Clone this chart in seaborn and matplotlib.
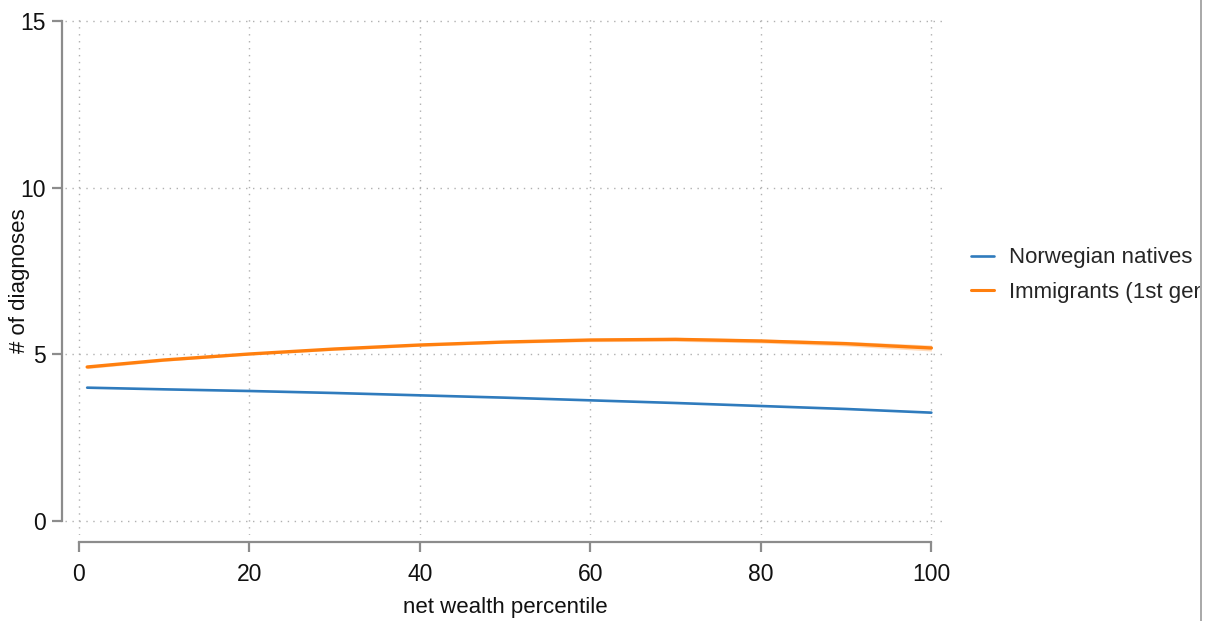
import numpy as np
import pandas as pd
import matplotlib
matplotlib.use("Agg")
import matplotlib.pyplot as plt
import seaborn as sns
from matplotlib.patches import Rectangle
from matplotlib.lines import Line2D

# ---- data ----
percentile = [1, 10, 20, 30, 40, 50, 60, 70, 80, 90, 100]
natives = [4.00, 3.95, 3.90, 3.84, 3.77, 3.70, 3.62, 3.54, 3.45, 3.36, 3.25]
immigrants = [4.62, 4.83, 5.01, 5.16, 5.28, 5.37, 5.43, 5.45, 5.40, 5.32, 5.19]
immig_lo = [4.57, 4.79, 4.98, 5.12, 5.24, 5.33, 5.38, 5.39, 5.34, 5.25, 5.10]
immig_hi = [4.67, 4.87, 5.04, 5.20, 5.32, 5.41, 5.48, 5.51, 5.46, 5.39, 5.28]
series_names = ["Norwegian natives", "Immigrants (1st generation)"]
xticks = [0, 20, 40, 60, 80, 100]
yticks = [0, 5, 10, 15]

df = pd.DataFrame({
    "net wealth percentile": percentile * 2,
    "# of diagnoses": natives + immigrants,
    "group": [series_names[0]] * len(percentile) + [series_names[1]] * len(percentile),
})

sns.set_theme(style="white")
plt.rcParams["font.family"] = ["Liberation Sans", "DejaVu Sans"]

W, H = 1213, 621
fig = plt.figure(figsize=(W / 100, H / 100), dpi=100)
ax = fig.add_axes([65 / W, (H - 535) / H, (945 - 65) / W, (535 - 15) / H])

palette = {series_names[0]: "#2f7bbd", series_names[1]: "#ff7f0e"}
ax.fill_between(percentile, immig_lo, immig_hi, color="#ff7f0e", alpha=0.28, lw=0)
sns.lineplot(data=df, x="net wealth percentile", y="# of diagnoses", hue="group",
             palette=palette, size="group",
             sizes={series_names[0]: 1.9, series_names[1]: 2.4},
             ax=ax, legend=False)

ax.set_xlim(-1.6, 101.6)
ax.set_ylim(-0.42, 15.18)
ax.set_xticks(xticks)
ax.set_yticks(yticks)
ax.grid(True, linestyle=(0, (1, 4)), color="#b0b0b0", linewidth=1.0)

for s in ["top", "right"]:
    ax.spines[s].set_visible(False)
ax.spines["left"].set_position(("outward", 2))
ax.spines["bottom"].set_position(("outward", 5))
ax.spines["left"].set_bounds(0, 15)
ax.spines["bottom"].set_bounds(0, 100)
for s in ["left", "bottom"]:
    ax.spines[s].set_color("#8c8c8c")
    ax.spines[s].set_linewidth(1.6)
ax.tick_params(axis="both", which="major", direction="out", length=7, width=1.6,
               color="#8c8c8c", labelsize=16.5, labelcolor="#111111", pad=5,
               bottom=True, left=True)
ax.tick_params(axis="x", pad=8)

ax.set_xlabel("net wealth percentile", fontsize=16, color="#111111", labelpad=8)
ax.set_ylabel("# of diagnoses", fontsize=16, color="#111111")
ax.yaxis.set_label_coords(-0.04, 0.49)

handles = [Line2D([], [], color=palette[series_names[0]], lw=1.9),
           Line2D([], [], color=palette[series_names[1]], lw=2.2)]
fig.legend(handles, series_names, loc="center left",
           bbox_to_anchor=(971 / W, (H - 275) / H), frameon=False,
           fontsize=16, handlelength=1.05, handletextpad=0.65,
           labelspacing=0.6, borderpad=0, borderaxespad=0)

fig.patches.append(Rectangle((1200 / W, 0), 1 - 1200 / W, 1, transform=fig.transFigure,
                             facecolor="white", edgecolor="none", zorder=20))
fig.add_artist(Line2D([1200.5 / W, 1200.5 / W], [0, 1], transform=fig.transFigure,
                      color="#9a9a9a", lw=1.2, zorder=21))

fig.savefig("out.png", dpi=100)
